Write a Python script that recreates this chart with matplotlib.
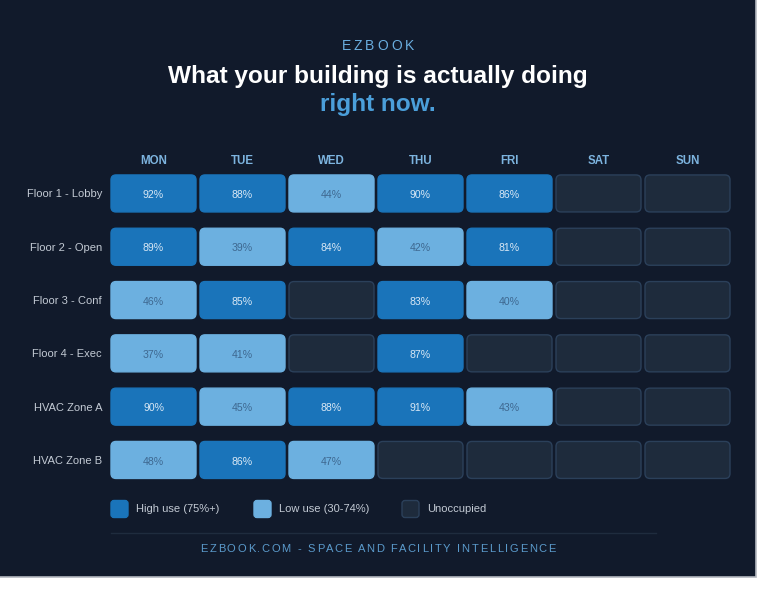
import matplotlib.pyplot as plt
from matplotlib.patches import FancyBboxPatch, Rectangle
from matplotlib.font_manager import FontProperties
from matplotlib.textpath import TextToPath

# data
days = ['MON', 'TUE', 'WED', 'THU', 'FRI', 'SAT', 'SUN']
zones = ['Floor 1 - Lobby', 'Floor 2 - Open', 'Floor 3 - Conf',
         'Floor 4 - Exec', 'HVAC Zone A', 'HVAC Zone B']
usage = [
    [92, 88, 44, 90, 86, None, None],
    [89, 39, 84, 42, 81, None, None],
    [46, 85, None, 83, 40, None, None],
    [37, 41, None, 87, None, None, None],
    [90, 45, 88, 91, 43, None, None],
    [48, 86, 47, None, None, None, None],
]
legend_labels = ['High use (75%+)', 'Low use (30-74%)', 'Unoccupied']

# colours
BG = '#111a2b'
HIGH = '#1a74ba'
LOW = '#6cb0e0'
EMPTY = '#1e2b3c'
EMPTY_EDGE = '#2b405a'
HIGH_TXT = '#d9e8f5'
LOW_TXT = '#3e6890'
LABEL = '#c3cad4'
ACCENT = '#6aaee0'

FONT = 'Liberation Sans'
plt.rcParams['font.family'] = [FONT, 'DejaVu Sans']

W, H = 768, 589
fig = plt.figure(figsize=(W / 100, H / 100), dpi=100)
fig.patch.set_facecolor('white')

# background axes in pixel units
bg = fig.add_axes([0, 0, 1, 1])
bg.set_xlim(0, W)
bg.set_ylim(H, 0)
bg.axis('off')
bg.add_patch(Rectangle((-2, -2), 758, 579, facecolor=BG, edgecolor='#b4b8bf', lw=1.2))

ttp = TextToPath()


def spaced_text(ax, x, y, s, size, color, spacing, weight='normal'):
    # draw text char by char with extra letter spacing (px), centred on x
    fp = FontProperties(family=FONT, size=size, weight=weight)
    k = fig.dpi / 72.0

    def width(t):
        if not t:
            return 0.0
        return ttp.get_text_width_height_descent(t, fp, ismath=False)[0] * k

    total = width(s) + spacing * (len(s) - 1)
    x0 = x - total / 2
    for i, ch in enumerate(s):
        ax.text(x0 + width(s[:i]) + i * spacing, y, ch, fontproperties=fp,
                color=color, ha='left', va='center')


spaced_text(bg, 378, 46, 'EZBOOK', 10, ACCENT, 3.0)
bg.text(378, 77, 'What your building is actually doing', color='white',
        fontsize=17.6, fontweight='bold', ha='center', va='center')
bg.text(378, 104, 'right now.', color='#4b9fda',
        fontsize=17.6, fontweight='bold', ha='center', va='center')

# heatmap axes: one unit per cell slot
x_left, x_right = 109, 732
y_top, y_bot = 166.8, 486.6
ax = fig.add_axes([x_left / W, 1 - y_bot / H, (x_right - x_left) / W, (y_bot - y_top) / H])
ax.set_xlim(0, len(days))
ax.set_ylim(len(zones), 0)
ax.patch.set_alpha(0)
for sp in ax.spines.values():
    sp.set_visible(False)

px_x = (x_right - x_left) / len(days)
px_y = (y_bot - y_top) / len(zones)
cw = 85 / px_x
ch = 37 / px_y
for r, row in enumerate(usage):
    for c, v in enumerate(row):
        if v is None:
            fc, ec = EMPTY, EMPTY_EDGE
        elif v >= 75:
            fc, ec = HIGH, HIGH
        else:
            fc, ec = LOW, LOW
        ax.add_patch(FancyBboxPatch((c + (1 - cw) / 2, r + (1 - ch) / 2), cw, ch,
                                    boxstyle='round,pad=0,rounding_size=%f' % (5 / px_x),
                                    mutation_aspect=px_x / px_y,
                                    facecolor=fc, edgecolor=ec, lw=1))
        if v is not None:
            ax.text(c + 0.5, r + 0.53, '%d%%' % v, ha='center', va='center',
                    fontsize=7.6, color=HIGH_TXT if v >= 75 else LOW_TXT)

ax.set_xticks([i + 0.5 for i in range(len(days))])
ax.set_xticklabels(days, fontsize=8.3, fontweight='bold', color='#7db4df')
ax.xaxis.tick_top()
ax.set_yticks([i + 0.5 for i in range(len(zones))])
ax.set_yticklabels(zones, fontsize=8, color=LABEL)
ax.tick_params(axis='x', length=0, pad=0)
ax.tick_params(axis='y', length=0, pad=5)

# legend
leg_x = [111, 254, 402]
leg_fc = [HIGH, LOW, EMPTY]
leg_ec = [HIGH, LOW, EMPTY_EDGE]
for x, lab, fc, ec in zip(leg_x, legend_labels, leg_fc, leg_ec):
    bg.add_patch(FancyBboxPatch((x, 500.5), 17, 17,
                                boxstyle='round,pad=0,rounding_size=3',
                                facecolor=fc, edgecolor=ec, lw=1))
    bg.text(x + 25, 509.5, lab, fontsize=8, color=LABEL, ha='left', va='center')

bg.plot([111, 656], [533, 533], color='#1f2c3e', lw=1)
spaced_text(bg, 378, 549, 'EZBOOK.COM - SPACE AND FACILITY INTELLIGENCE', 8, '#5b9bcc', 1.7)

fig.savefig('out.png', dpi=100, facecolor=fig.get_facecolor())
